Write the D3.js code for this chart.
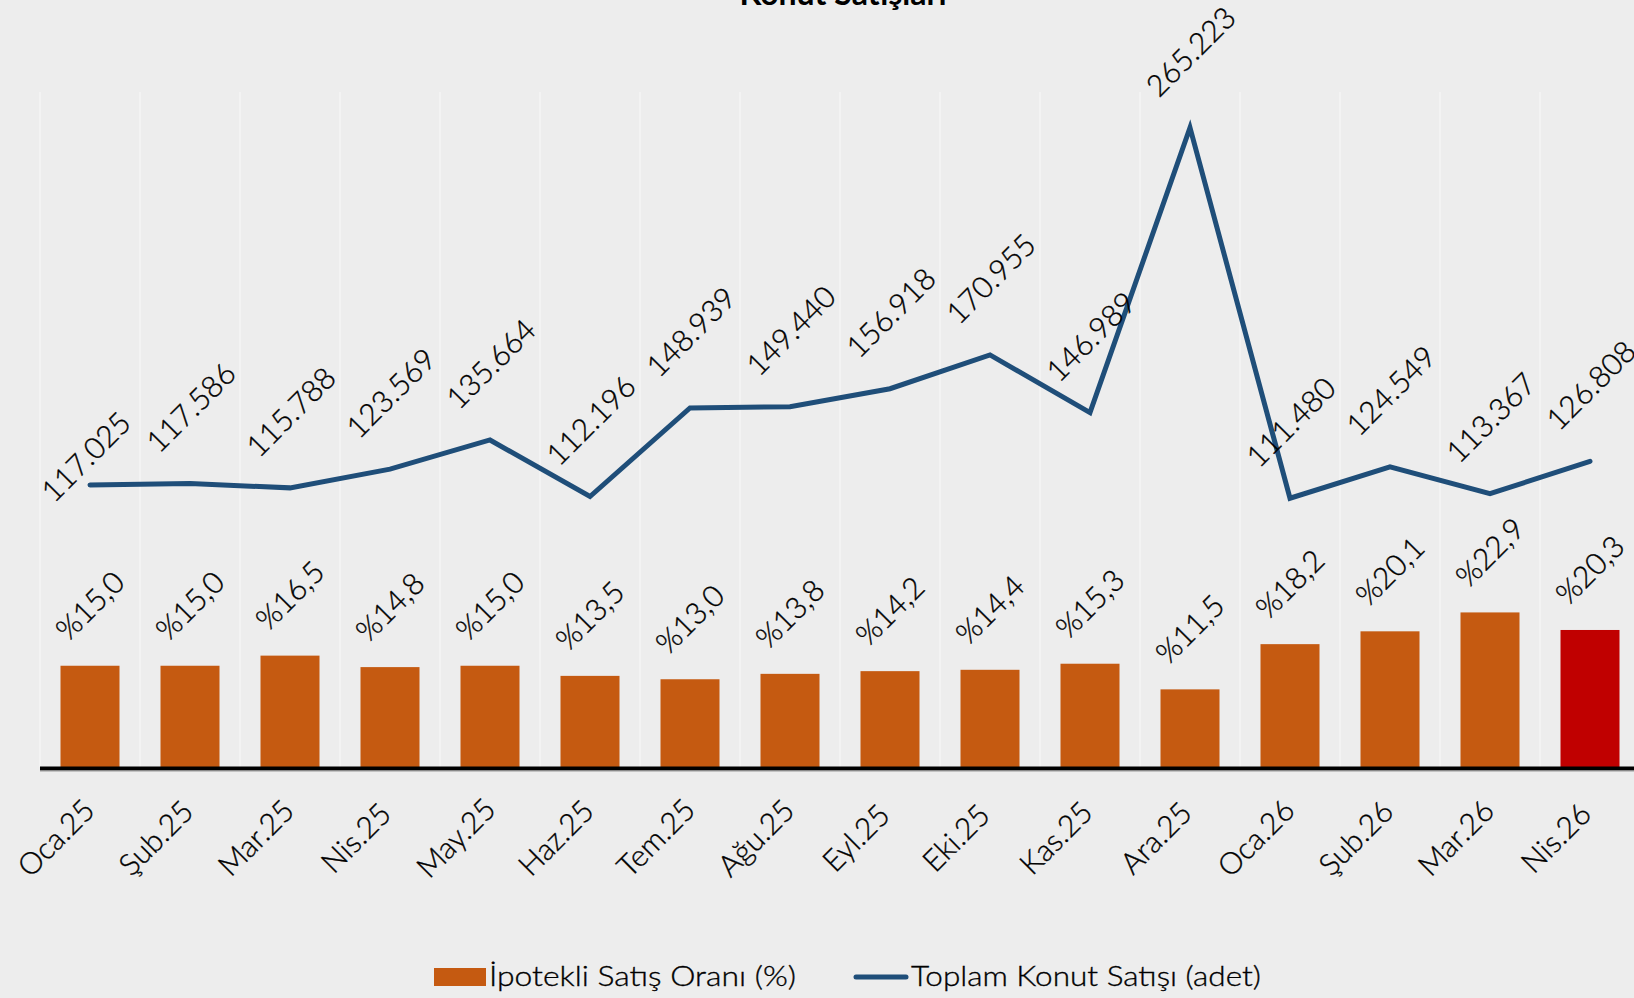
<!DOCTYPE html>
<html lang="tr">
<head>
<meta charset="utf-8">
<title>Konut Satışları</title>
<script src="https://cdn.jsdelivr.net/npm/d3@7"></script>
<style>
  html, body { margin: 0; padding: 0; background: #ededed; }
  svg { display: block; font-family: Lato, "Noto Sans", sans-serif; }
</style>
</head>
<body>
<svg id="chart" width="1634" height="998"></svg>
<script>
const months = [
  "Oca.25", "Şub.25", "Mar.25", "Nis.25", "May.25", "Haz.25", "Tem.25", "Ağu.25",
  "Eyl.25", "Eki.25", "Kas.25", "Ara.25", "Oca.26", "Şub.26", "Mar.26", "Nis.26",
];
const mortgageShare = [
  15.0, 15.0, 16.5, 14.8, 15.0, 13.5, 13.0, 13.8,
  14.2, 14.4, 15.3, 11.5, 18.2, 20.1, 22.9, 20.3,
];
const totalSales = [
  117025, 117586, 115788, 123569, 135664, 112196, 148939, 149440,
  156918, 170955, 146989, 265223, 111480, 124549, 113367, 126808,
];
const seriesNames = ["İpotekli Satış Oranı (%)", "Toplam Konut Satışı (adet)"];
const chartTitle = "Konut Satışları";

const trLocale = d3.formatLocale({
  decimal: ",",
  thousands: ".",
  grouping: [3],
  currency: ["", " ₺"],
});
const fmtCount = trLocale.format(",d");
const fmtShare = trLocale.format(".1f");

const svg = d3.select("#chart");
const width = 1634;
const plotTop = 92;
const plotBottom = 767;
const fontSize = 30;

const orange = "#c55a11";
const red = "#c00000";
const blue = "#1f4e79";

const data = months.map((m, i) => ({
  month: m,
  share: mortgageShare[i],
  sales: totalSales[i],
  last: i === months.length - 1,
}));

const x = d3
  .scaleBand()
  .domain(months)
  .range([40, 1640])
  .paddingInner(0.41)
  .paddingOuter(0.205);
const step = x.step();
const cx = (d) => x(d.month) + x.bandwidth() / 2;

const yBar = d3.scaleLinear().domain([0, 100]).range([plotBottom, plotTop]);
const yLine = d3.scaleLinear().domain([0, 280000]).range([plotBottom, plotTop]);

// Futura Book'a yakın kalınlık: Lato Light + ince kontur
function labelStyle(sel, size) {
  sel
    .attr("font-size", size)
    .attr("font-weight", 300)
    .attr("fill", "#000")
    .attr("stroke", "#000")
    .attr("stroke-width", 0.35);
}

// dikey kılavuz çizgileri (kategori sınırları)
svg
  .append("g")
  .selectAll("line")
  .data(months)
  .join("line")
  .attr("x1", (m) => x(m) - x.paddingOuter() * step)
  .attr("x2", (m) => x(m) - x.paddingOuter() * step)
  .attr("y1", plotTop)
  .attr("y2", plotBottom)
  .attr("stroke", "#f4f4f4")
  .attr("stroke-width", 1.5);

// sütunlar
svg
  .append("g")
  .selectAll("rect")
  .data(data)
  .join("rect")
  .attr("x", (d) => x(d.month))
  .attr("y", (d) => yBar(d.share))
  .attr("width", x.bandwidth())
  .attr("height", (d) => plotBottom - yBar(d.share))
  .attr("fill", (d) => (d.last ? red : orange));

// x ekseni
const xAxis = svg
  .append("g")
  .attr("transform", `translate(0,${plotBottom + 1.5})`)
  .call(d3.axisBottom(x).tickSize(0).tickFormat(""));
xAxis.select(".domain").remove();
xAxis
  .append("line")
  .attr("x1", 40)
  .attr("x2", width)
  .attr("y1", 0)
  .attr("y2", 0)
  .attr("stroke", "#000")
  .attr("stroke-width", 4);
xAxis
  .append("line")
  .attr("x1", 40)
  .attr("x2", width)
  .attr("y1", 2.5)
  .attr("y2", 2.5)
  .attr("stroke", "#9a9a9a")
  .attr("stroke-width", 1);

svg
  .append("g")
  .selectAll("text")
  .data(data)
  .join("text")
  .attr("transform", (d) => `translate(${cx(d) - 34},${plotBottom + 71}) rotate(-45)`)
  .attr("text-anchor", "middle")
  .attr("dy", "0.35em")
  .call(labelStyle, fontSize)
  .text((d) => d.month);

// toplam satış çizgisi
const line = d3
  .line()
  .x((d) => cx(d))
  .y((d) => yLine(d.sales));

svg
  .append("path")
  .datum(data)
  .attr("d", line)
  .attr("fill", "none")
  .attr("stroke", blue)
  .attr("stroke-width", 5)
  .attr("stroke-linecap", "round");

// etiketler
svg
  .append("g")
  .selectAll("text")
  .data(data)
  .join("text")
  .attr("transform", (d, i) => {
    const lx = i === 0 ? cx(d) - 4 : cx(d) + 1;
    const ly = i === 0 ? yLine(d.sales) - 28 : yLine(d.sales) - 76;
    return `translate(${lx},${ly}) rotate(-45)`;
  })
  .attr("text-anchor", "middle")
  .attr("dy", "0.35em")
  .call(labelStyle, fontSize)
  .text((d) => fmtCount(d.sales));

svg
  .append("g")
  .selectAll("text")
  .data(data)
  .join("text")
  .attr("transform", (d) => `translate(${cx(d)},${yBar(d.share) - 60}) rotate(-45)`)
  .attr("text-anchor", "middle")
  .attr("dy", "0.35em")
  .call(labelStyle, fontSize)
  .text((d) => "%" + fmtShare(d.share));

// başlık (üstten kırpılmış)
svg
  .append("text")
  .attr("x", 843)
  .attr("y", 5)
  .attr("text-anchor", "middle")
  .attr("font-size", 32)
  .attr("font-weight", 700)
  .attr("fill", "#000")
  .text(chartTitle);

// lejant
const legend = svg.append("g");
legend
  .append("rect")
  .attr("x", 434)
  .attr("y", 968)
  .attr("width", 52)
  .attr("height", 18)
  .attr("fill", orange);
legend
  .append("text")
  .attr("x", 489)
  .attr("y", 986)
  .call(labelStyle, 28)
  .attr("textLength", 307)
  .attr("lengthAdjust", "spacingAndGlyphs")
  .text(seriesNames[0]);
legend
  .append("line")
  .attr("x1", 856)
  .attr("x2", 906)
  .attr("y1", 977)
  .attr("y2", 977)
  .attr("stroke", blue)
  .attr("stroke-width", 5)
  .attr("stroke-linecap", "round");
legend
  .append("text")
  .attr("x", 911)
  .attr("y", 986)
  .call(labelStyle, 28)
  .attr("textLength", 350)
  .attr("lengthAdjust", "spacingAndGlyphs")
  .text(seriesNames[1]);
</script>
</body>
</html>
